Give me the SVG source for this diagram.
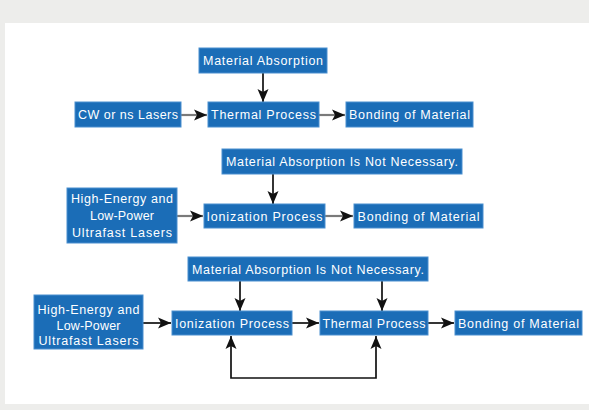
<svg xmlns="http://www.w3.org/2000/svg" width="589" height="410" viewBox="0 0 589 410">
<defs>
<style>
.box{fill:#1b6db7;stroke:#4a8fcf;stroke-width:1}
.t{font-family:"Liberation Sans","DejaVu Sans",Arial,sans-serif;font-size:12.5px;fill:#ffffff;text-anchor:middle}
.c{fill:none;stroke:#111;stroke-width:1.7}
.g{fill:none;stroke:#7a7a7a;stroke-width:2.2}
</style>
<marker id="ah" markerUnits="userSpaceOnUse" markerWidth="14" markerHeight="14" viewBox="0 0 14 14" refX="13" refY="7" orient="auto-start-reverse">
<path d="M0,1.5 L13,7 L0,12.5 L3,7 Z" fill="#111"/>
</marker>
</defs>
<rect x="0" y="0" width="589" height="410" fill="#ededeb"/>
<rect x="5" y="23" width="584" height="381" fill="#ffffff"/>

<g id="connectors">
<path class="c" d="M263,73 V102" marker-end="url(#ah)"/>
<path class="g" d="M181,115 H207" marker-end="url(#ah)"/>
<path class="g" d="M319,115 H345" marker-end="url(#ah)"/>
<path class="c" d="M273,174 V204" marker-end="url(#ah)"/>
<path class="g" d="M177,216 H203" marker-end="url(#ah)"/>
<path class="g" d="M325,216 H353" marker-end="url(#ah)"/>
<path class="c" d="M240,281 V311" marker-end="url(#ah)"/>
<path class="c" d="M382,281 V311" marker-end="url(#ah)"/>
<path class="c" d="M143,323 H171" marker-end="url(#ah)"/>
<path class="c" d="M292,323 H319" marker-end="url(#ah)"/>
<path class="c" d="M428,323 H454" marker-end="url(#ah)"/>
<path class="c" d="M231,336 V378 H376 V336" marker-start="url(#ah)" marker-end="url(#ah)"/>
</g>

<g id="r1-absorption">
<rect class="box" x="199" y="48" width="128" height="25"/>
<text class="t" x="263" y="65" textLength="120" lengthAdjust="spacing">Material Absorption</text>
</g>
<g id="r1-lasers">
<rect class="box" x="75" y="102" width="106" height="25"/>
<text class="t" x="128" y="119" textLength="100" lengthAdjust="spacing">CW or ns Lasers</text>
</g>
<g id="r1-thermal">
<rect class="box" x="208" y="102" width="111" height="25"/>
<text class="t" x="263.5" y="119" textLength="105" lengthAdjust="spacing">Thermal Process</text>
</g>
<g id="r1-bonding">
<rect class="box" x="346" y="102" width="127" height="25"/>
<text class="t" x="409.5" y="119" textLength="121" lengthAdjust="spacing">Bonding of Material</text>
</g>

<g id="r2-absorption">
<rect class="box" x="222" y="149" width="240" height="25"/>
<text class="t" x="342" y="166" textLength="232" lengthAdjust="spacing">Material Absorption Is Not Necessary.</text>
</g>
<g id="r2-lasers">
<rect class="box" x="67" y="188" width="110" height="55"/>
<text class="t" x="122" y="202.5" textLength="102" lengthAdjust="spacing">High-Energy and</text>
<text class="t" x="122" y="220" textLength="64" lengthAdjust="spacing">Low-Power</text>
<text class="t" x="122" y="236.5" textLength="100" lengthAdjust="spacing">Ultrafast Lasers</text>
</g>
<g id="r2-ionization">
<rect class="box" x="204" y="204" width="121" height="24"/>
<text class="t" x="264.5" y="220.5" textLength="116" lengthAdjust="spacing">Ionization Process</text>
</g>
<g id="r2-bonding">
<rect class="box" x="354" y="204" width="129" height="24"/>
<text class="t" x="418.5" y="220.5" textLength="122" lengthAdjust="spacing">Bonding of Material</text>
</g>

<g id="r3-absorption">
<rect class="box" x="188" y="257" width="240" height="24"/>
<text class="t" x="308" y="273.5" textLength="232" lengthAdjust="spacing">Material Absorption Is Not Necessary.</text>
</g>
<g id="r3-lasers">
<rect class="box" x="34" y="295" width="109" height="54"/>
<text class="t" x="88.5" y="313.5" textLength="102" lengthAdjust="spacing">High-Energy and</text>
<text class="t" x="88.5" y="329.5" textLength="64" lengthAdjust="spacing">Low-Power</text>
<text class="t" x="88.5" y="345" textLength="100" lengthAdjust="spacing">Ultrafast Lasers</text>
</g>
<g id="r3-ionization">
<rect class="box" x="172" y="311" width="120" height="24"/>
<text class="t" x="232" y="327.5" textLength="114" lengthAdjust="spacing">Ionization Process</text>
</g>
<g id="r3-thermal">
<rect class="box" x="320" y="311" width="108" height="24"/>
<text class="t" x="374" y="327.5" textLength="103" lengthAdjust="spacing">Thermal Process</text>
</g>
<g id="r3-bonding">
<rect class="box" x="455" y="311" width="127" height="24"/>
<text class="t" x="518.5" y="327.5" textLength="121" lengthAdjust="spacing">Bonding of Material</text>
</g>
</svg>
